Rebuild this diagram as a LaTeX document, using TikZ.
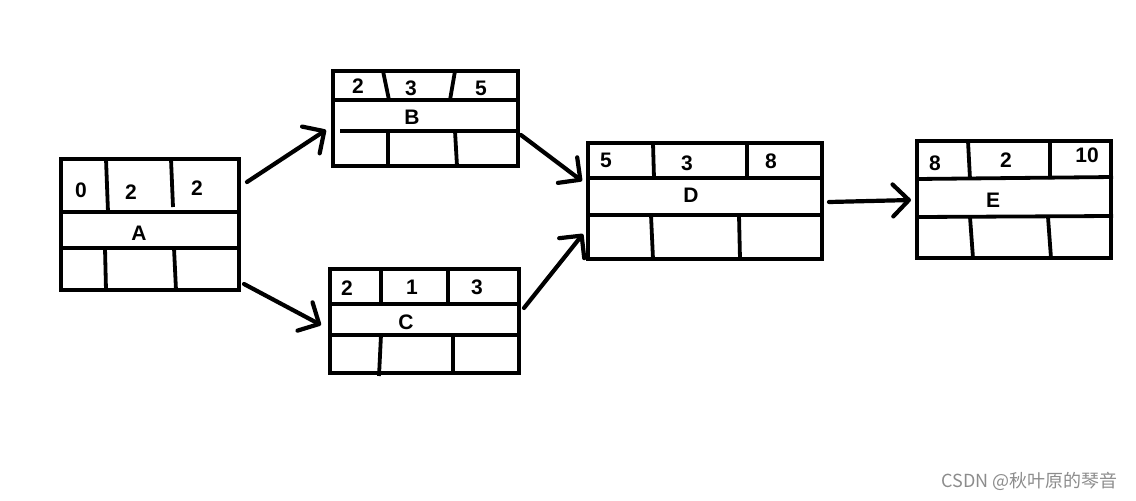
\documentclass[tikz,border=0pt]{standalone}
\usepackage{fontspec}
\setmainfont{Liberation Sans}
\newfontfamily\cjk{Noto Sans CJK SC}
\usetikzlibrary{positioning, arrows.meta}

\begin{document}
\begin{tikzpicture}[
    x=1pt, y=-1pt,
    task/.style={draw, line width=3.8pt, inner sep=0pt},
    cell/.style={line width=3.8pt},
    val/.style={font=\fontsize{21}{21}\selectfont\bfseries, inner sep=0pt},
    arrow/.style={line width=4.2pt, line cap=round, -{Straight Barb[length=16pt, width=32pt, round]}}
]
\useasboundingbox (0,0) rectangle (1136,501);

% Boxes
\node[task, minimum width=178pt, minimum height=131pt] (A) at (150,224.5) {};
\node[task, minimum width=185pt, minimum height=95pt] (B) at (425.5,118.5) {};
\node[task, minimum width=189pt, minimum height=104pt] (C) at (424.5,321) {};
\node[task, minimum width=234pt, minimum height=116pt] (D) at (705,201) {};
\node[task, minimum width=194pt, minimum height=117pt] (E) at (1014,199.5) {};

% Inner lines of A
\draw[cell] (61,212) -- (239,212) (61,248) -- (239,248);
\draw[cell] (106,159) -- (108,212) (171,159) -- (173,207);
\draw[cell] (105,248) -- (106,290) (174,248) -- (176,290);

% Inner lines of B
\draw[cell] (333,100) -- (518,100) (340,131) -- (518,131);
\draw[cell] (383,71) -- (389,100) (455,71) -- (450,100);
\draw[cell] (388,131) -- (388,166) (455,131) -- (457,166);

% Inner lines of C
\draw[cell] (330,304) -- (519,304) (330,335) -- (519,335);
\draw[cell] (381,269) -- (381,304) (448,269) -- (448,304);
\draw[cell] (381,335) -- (379,376) (453,335) -- (453,373);

% Inner lines of D
\draw[cell] (588,178) -- (822,178) (588,215) -- (822,215);
\draw[cell] (653,143) -- (654,178) (747,143) -- (747,178);
\draw[cell] (651,215) -- (653,259) (739,215) -- (740,259);

% Inner lines of E
\draw[cell] (917,179) -- (1113,177) (917,217) -- (1113,216);
\draw[cell] (968,141) -- (970,179) (1050,141) -- (1050,179);
\draw[cell] (970,217) -- (973,258) (1048,217) -- (1051,258);

% Values
\node[val] (a1) at (81,190) {0};
\node[val] (a2) at (131,192) {2};
\node[val] (a3) at (197,188) {2};
\node[val] (an) at (139,233) {A};
\node[val] (b1) at (358,86) {2};
\node[val] (b2) at (411,88) {3};
\node[val] (b3) at (481,88) {5};
\node[val] (bn) at (412,117) {B};
\node[val] (c1) at (347,288) {2};
\node[val] (c2) at (412,287) {1};
\node[val] (c3) at (477,287) {3};
\node[val] (cn) at (406,322) {C};
\node[val] (d1) at (606,160) {5};
\node[val] (d2) at (687,163) {3};
\node[val] (d3) at (771,161) {8};
\node[val] (dn) at (691,195) {D};
\node[val] (e1) at (935,163) {8};
\node[val] (e2) at (1006,160) {2};
\node[val] (e3) at (1087,155) {10};
\node[val] (en) at (993,200) {E};

% Arrow ends
\coordinate (ab0) at (247,182);
\coordinate (ab1) at (326,130);
\coordinate (ac0) at (244,284);
\coordinate (ac1) at (321,325);
\coordinate (bd0) at (521,135);
\coordinate (bd1) at (582,181);
\coordinate (cd0) at (524,308);
\coordinate (cd1) at (583,234);
\coordinate (de0) at (829,202);
\coordinate (de1) at (911,200);

\draw[arrow] (ab0) -- (ab1);
\draw[arrow] (ac0) -- (ac1);
\draw[arrow] (bd0) -- (bd1);
\draw[arrow] (cd0) -- (cd1);
\draw[arrow] (de0) -- (de1);

% Watermark
\node[font=\cjk\fontsize{18}{18}\selectfont, text=black!45, anchor=east] (wm) at (1121,481) {CSDN @秋叶原的琴音};
\end{tikzpicture}
\end{document}
